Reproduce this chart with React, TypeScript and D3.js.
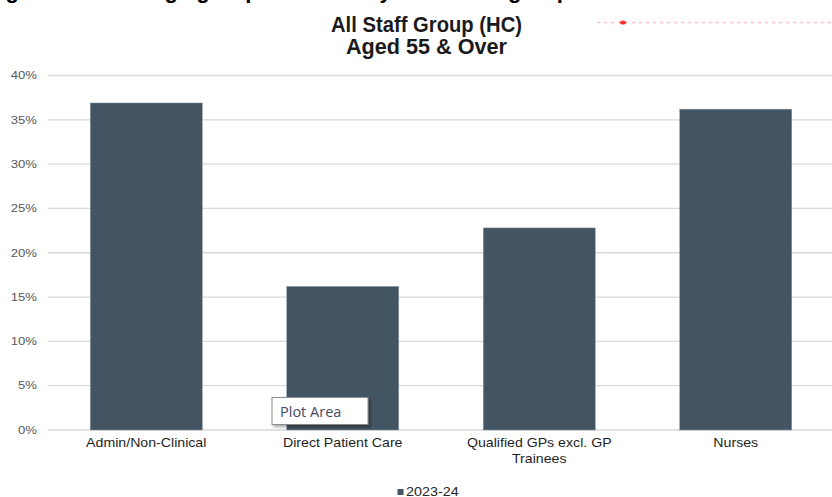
import React from "react";
import * as d3 from "d3";

const categories = ["Admin/Non-Clinical", "Direct Patient Care", "Qualified GPs excl. GP|Trainees", "Nurses"];
const values2023 = [0.369, 0.162, 0.228, 0.362];
const yTicks = [0, 0.05, 0.1, 0.15, 0.2, 0.25, 0.3, 0.35, 0.4];
const seriesName = "2023-24";
const chartTitle = ["All Staff Group (HC)", "Aged 55 & Over"];
const cutTitle = "Figure 12: Staff age group structure by main staff group";

const W = 832;
const H = 497;
const BAR = "#435462";

export default function App() {
  const x = d3
    .scaleBand<string>()
    .domain(categories)
    .range([48, 834])
    .paddingInner(0.43)
    .paddingOuter(0.215);
  const y = d3.scaleLinear().domain([0, 0.4]).range([430, 75.5]);
  const fmt = d3.format(".0%");
  const sans = "'Liberation Sans', Arial, sans-serif";

  return (
    <div style={{ position: "fixed", left: 0, top: 0, width: W, height: H, background: "#fff" }}>
      <svg width={W} height={H} style={{ display: "block" }}>
        <defs>
          <filter id="shadow" x="-20%" y="-20%" width="150%" height="160%">
            <feDropShadow dx="2" dy="2" stdDeviation="1.5" floodColor="#000" floodOpacity="0.35" />
          </filter>
        </defs>
        <rect width={W} height={H} fill="#fff" />
        {/* cut-off heading at top (only descenders visible) */}
        <text x={-14} y={-2} fontFamily={sans} fontWeight="bold" fontSize={22} fill="#000">
          {cutTitle}
        </text>
        {/* faint red dotted line top right */}
        <line x1={597} x2={832} y1={22.5} y2={22.5} stroke="#ff4040" strokeOpacity={0.3} strokeWidth={1.3} strokeDasharray="3 4" />
        <ellipse cx={623} cy={22.5} rx={3} ry={2} fill="#ff1010" opacity={0.85} />

        {/* chart title */}
        {chartTitle.map((t, i) => (
          <text
            key={t}
            x={426.5}
            y={32 + i * 22}
            textAnchor="middle"
            fontFamily={sans}
            fontWeight="bold"
            fontSize={21.5}
            fill="#1a1a1a"
            textLength={i === 0 ? 191 : 161}
            lengthAdjust="spacingAndGlyphs"
          >
            {t}
          </text>
        ))}

        {/* gridlines */}
        {yTicks.map((t) => (
          <line key={t} x1={48} x2={832} y1={y(t)} y2={y(t)} stroke="#d9d9d9" strokeWidth={1.3} />
        ))}
        {/* y tick labels */}
        {yTicks.map((t) => (
          <g key={"l" + t} transform={`translate(37,${y(t) + 3.8}) scale(1.25,1)`}>
            <text textAnchor="end" fontFamily={sans} fontSize={10.5} fill="#595959">
              {fmt(t)}
            </text>
          </g>
        ))}

        {/* bars */}
        {categories.map((c, i) => (
          <rect
            key={c}
            x={x(c)!}
            y={y(values2023[i])}
            width={x.bandwidth()}
            height={y(0) - y(values2023[i])}
            fill={BAR}
            stroke="#8a98a4"
            strokeWidth={0.5}
          />
        ))}

        {/* x labels */}
        {categories.map((c) => {
          const lines = c.split("|");
          const cx = x(c)! + x.bandwidth() / 2;
          return lines.map((ln, j) => (
            <g key={c + j} transform={`translate(${cx},${447 + j * 16}) scale(1.18,1)`}>
              <text textAnchor="middle" fontFamily={sans} fontSize={12} fill="#1f1f1f">
                {ln}
              </text>
            </g>
          ));
        })}

        {/* legend */}
        <rect x={397.5} y={489} width={6} height={6} fill={BAR} />
        <g transform="translate(406,495.5) scale(1.2,1)">
          <text fontFamily={sans} fontSize={12} fill="#262626">
            {seriesName}
          </text>
        </g>

        {/* Plot Area tooltip */}
        <g filter="url(#shadow)">
          <rect x={272} y={397.5} width={96} height={27} fill="#fff" stroke="#8c8c8c" strokeWidth={1} />
        </g>
        <text x={280} y={417} fontFamily="'Open Sans', 'Noto Sans', sans-serif" fontSize={14.5} fill="#464a66">
          Plot Area
        </text>
      </svg>
    </div>
  );
}
